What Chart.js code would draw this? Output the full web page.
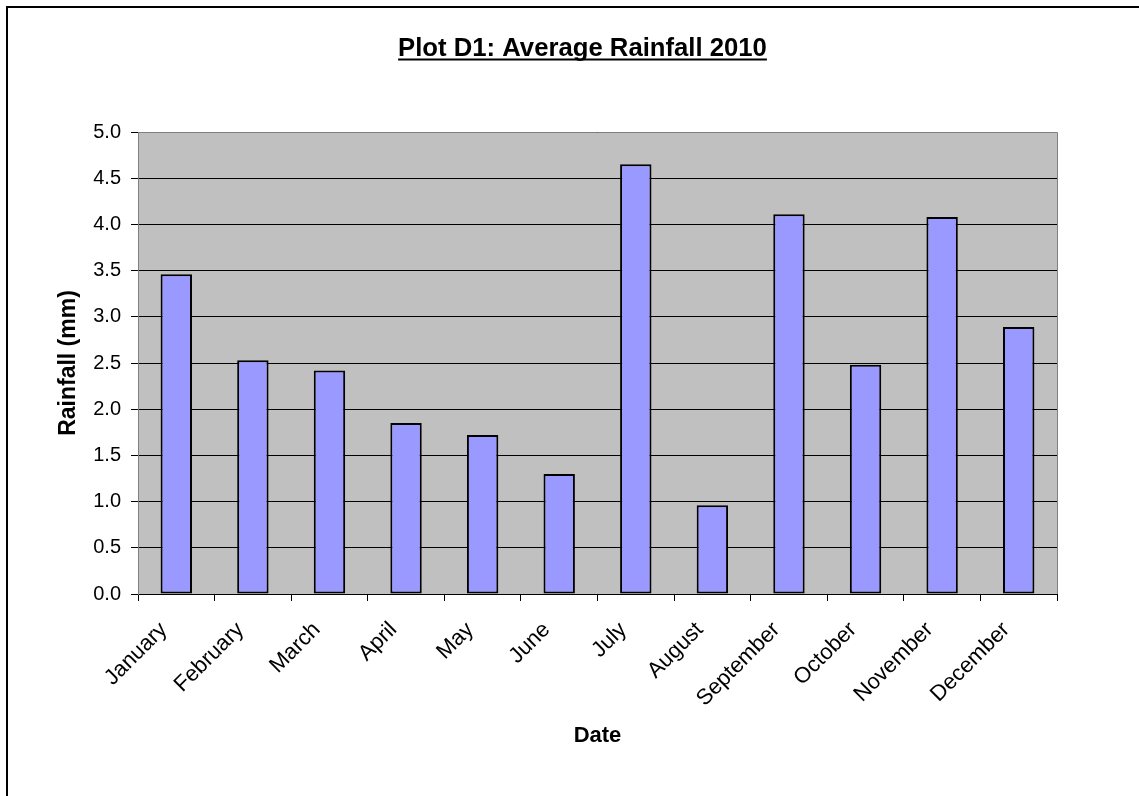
<!DOCTYPE html>
<html>
<head>
<meta charset="utf-8">
<title>Plot D1: Average Rainfall 2010</title>
<script src="https://cdn.jsdelivr.net/npm/chart.js@4/dist/chart.umd.min.js"></script>
<style>
  html, body { margin: 0; padding: 0; background: #ffffff; }
  #wrap { position: relative; width: 1139px; height: 796px; }
</style>
</head>
<body>
<div id="wrap"><canvas id="chart" width="1139" height="796"></canvas></div>
<script>
// Monthly average rainfall for plot D1, 2010
const months = ['January', 'February', 'March', 'April', 'May', 'June',
                'July', 'August', 'September', 'October', 'November', 'December'];
const rainfall = [3.46, 2.53, 2.42, 1.85, 1.72, 1.30, 4.65, 0.96, 4.11, 2.48, 4.08, 2.89];
const yTicks = [0, 0.5, 1.0, 1.5, 2.0, 2.5, 3.0, 3.5, 4.0, 4.5, 5.0];

const titleText = 'Plot D1: Average Rainfall 2010';
const xTitle = 'Date';
const yTitle = 'Rainfall (mm)';

const FONT = "'Liberation Sans', Arial, sans-serif";

// Grey plot panel, its outline, the outer frame and the underlined heading
const decorations = {
  id: 'decorations',
  beforeDraw(chart) {
    const { ctx, chartArea: a } = chart;
    ctx.save();
    ctx.fillStyle = '#ffffff';
    ctx.fillRect(0, 0, chart.width, chart.height);
    ctx.fillStyle = '#c0c0c0';
    ctx.fillRect(a.left, a.top, a.right - a.left, a.bottom - a.top);
    ctx.restore();
  },
  afterDraw(chart) {
    const { ctx, chartArea: a } = chart;
    ctx.save();
    // panel outline on the top and right sides
    ctx.strokeStyle = '#808080';
    ctx.lineWidth = 1;
    ctx.beginPath();
    ctx.moveTo(a.left, a.top + 0.5);
    ctx.lineTo(a.right + 0.5, a.top + 0.5);
    ctx.lineTo(a.right + 0.5, a.bottom);
    ctx.stroke();
    // outer frame
    ctx.strokeStyle = '#000000';
    ctx.lineWidth = 2;
    ctx.strokeRect(7, 7, chart.width + 20, chart.height + 20);
    // heading
    ctx.fillStyle = '#000000';
    ctx.font = 'bold 25.7px ' + FONT;
    ctx.textAlign = 'center';
    ctx.textBaseline = 'alphabetic';
    const cx = 582.5, base = 56;
    ctx.fillText(titleText, cx, base);
    const w = ctx.measureText(titleText).width;
    ctx.fillRect(cx - w / 2, base + 2.5, w, 2);
    ctx.restore();
  }
};

new Chart(document.getElementById('chart'), {
  type: 'bar',
  data: {
    labels: months,
    datasets: [{
      label: 'Rainfall (mm)',
      data: rainfall,
      backgroundColor: '#9999ff',
      borderColor: '#000000',
      borderWidth: 2,
      borderSkipped: false,
      categoryPercentage: 1.0,
      barPercentage: 0.41
    }]
  },
  options: {
    responsive: false,
    animation: false,
    devicePixelRatio: 1,
    layout: { padding: { top: 132, left: 0, right: 82, bottom: 0 } },
    plugins: {
      legend: { display: false },
      title: { display: false },
      tooltip: { enabled: false }
    },
    scales: {
      x: {
        offset: true,
        afterFit(scale) { scale.height = 796 - 594; },
        grid: {
          offset: true,
          drawOnChartArea: false,
          drawTicks: true,
          tickLength: 7,
          tickColor: '#000000',
          tickWidth: 1
        },
        border: { display: true, color: '#000000', width: 1 },
        ticks: {
          autoSkip: false,
          minRotation: 45,
          maxRotation: 45,
          padding: 16,
          labelOffset: -12.5,
          color: '#000000',
          font: { family: FONT, size: 22 }
        },
        title: {
          display: true,
          text: xTitle,
          color: '#000000',
          font: { family: FONT, size: 22, weight: 'bold' },
          padding: { top: 0, bottom: 47 }
        }
      },
      y: {
        min: 0,
        max: 5,
        afterFit(scale) { scale.width = 138; },
        afterBuildTicks(scale) { scale.ticks = yTicks.map(v => ({ value: v })); },
        grid: {
          color: '#000000',
          lineWidth: 1,
          drawTicks: true,
          tickLength: 7,
          tickColor: '#000000'
        },
        border: { display: true, color: '#808080', width: 1 },
        ticks: {
          padding: 10,
          color: '#000000',
          font: { family: FONT, size: 20 },
          callback: v => Number(v).toFixed(1)
        },
        title: {
          display: true,
          text: yTitle,
          color: '#000000',
          font: { family: FONT, size: 23, weight: 'bold' },
          padding: { top: 55, bottom: 0 }
        }
      }
    }
  },
  plugins: [decorations]
});
</script>
</body>
</html>
